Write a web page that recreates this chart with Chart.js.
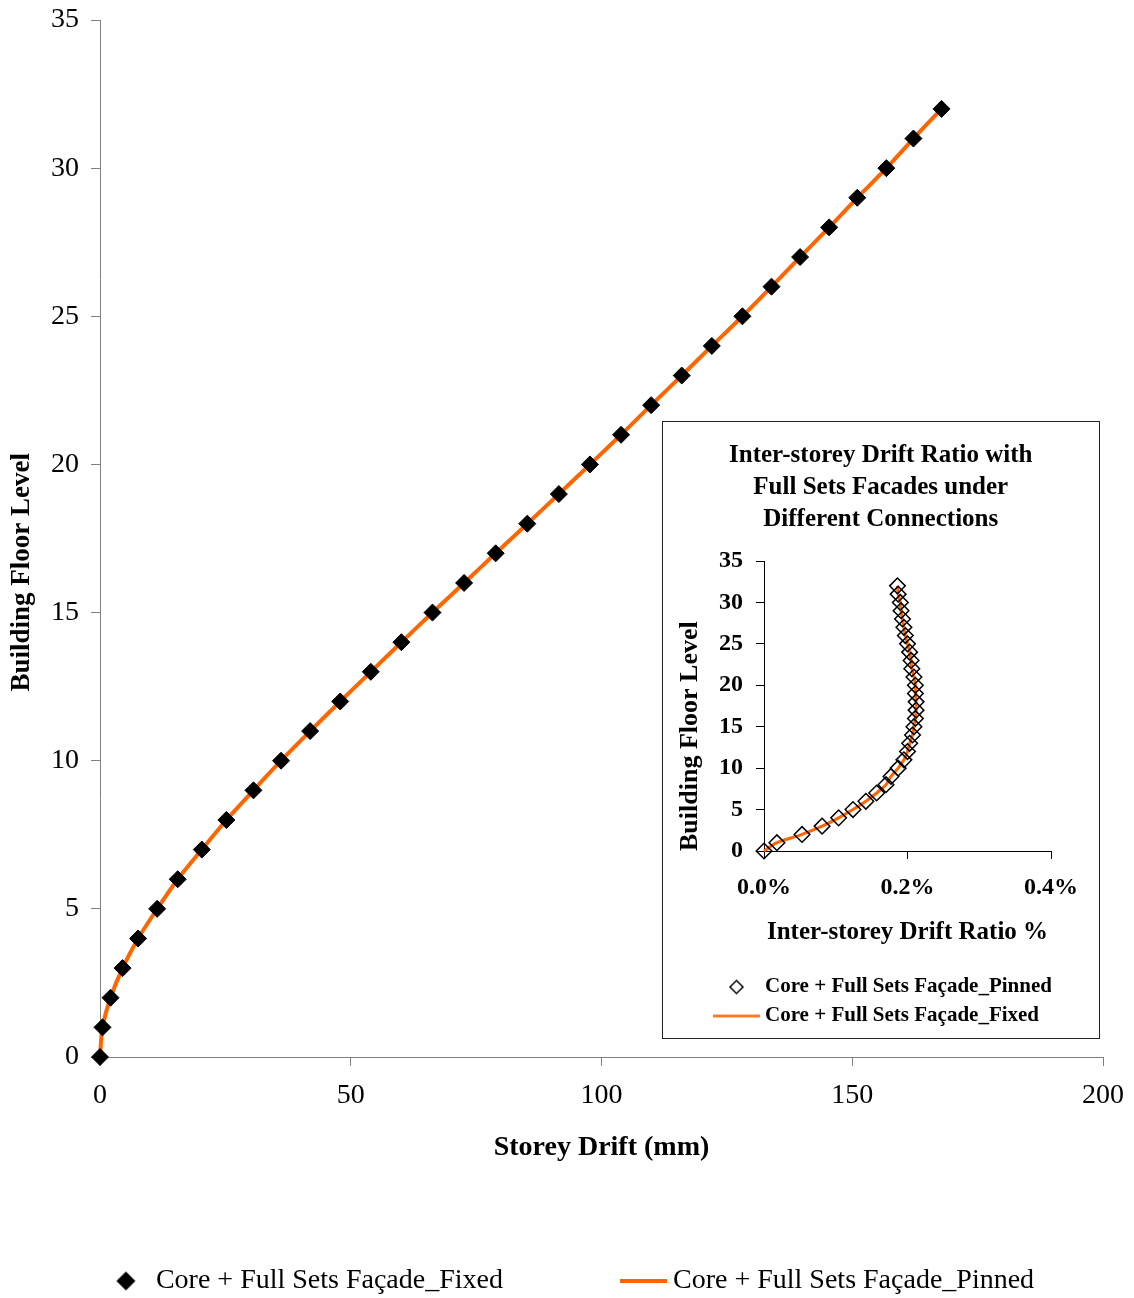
<!DOCTYPE html>
<html>
<head>
<meta charset="utf-8">
<title>Storey Drift</title>
<script src="https://cdn.jsdelivr.net/npm/chart.js@4.4.1/dist/chart.umd.min.js"></script>
<style>
  html, body { margin: 0; padding: 0; background: #fff; }
  #wrap { position: relative; width: 1134px; height: 1298px; }
  #mainChart { position: absolute; left: 0; top: 0; }
  #inset { position: absolute; left: 662px; top: 421px; width: 436px; height: 616px; border: 1px solid #222; background: #fff; }
  #insetChart { display: block; }
</style>
</head>
<body>
<div id="wrap">
  <canvas id="mainChart" width="1134" height="1298"></canvas>
  <div id="inset"><canvas id="insetChart" width="436" height="616"></canvas></div>
</div>
<script>
// Values
const floors = [0, 1, 2, 3, 4, 5, 6, 7, 8, 9, 10, 11, 12, 13, 14, 15, 16,
                17, 18, 19, 20, 21, 22, 23, 24, 25, 26, 27, 28, 29, 30, 31, 32];

// storey drift (mm)
const storeyDrift = [0, 0.5, 2.1, 4.5, 7.6, 11.4, 15.5, 20.3, 25.2, 30.6, 36.1,
                     41.9, 47.9, 54.0, 60.1, 66.3, 72.6, 78.9, 85.2, 91.5, 97.7,
                     103.9, 109.9, 116.0, 122.0, 128.1, 133.9, 139.6, 145.4, 151.0,
                     156.8, 162.2, 167.8];

// inter-storey drift ratio (%)
const driftRatio = [0, 0.018, 0.053, 0.081, 0.104, 0.124, 0.142, 0.157, 0.170, 0.177,
                    0.187, 0.195, 0.200, 0.203, 0.207, 0.209, 0.211, 0.212, 0.212,
                    0.211, 0.211, 0.209, 0.206, 0.205, 0.203, 0.200, 0.197, 0.195,
                    0.193, 0.191, 0.190, 0.187, 0.186];

const floorTicks = [0, 5, 10, 15, 20, 25, 30, 35];
const driftTicks = [0, 50, 100, 150, 200];
const ratioTicks = [0, 0.2, 0.4];

const ORANGE = '#FF6600';
const FONT = '"Liberation Serif", "Times New Roman", serif';
const NBSP = '\u00A0';

Chart.defaults.font.family = FONT;
Chart.defaults.color = '#000';

const toPoints = xs => floors.map((f, i) => ({ x: xs[i], y: f }));
const setTicks = list => scale => { scale.ticks = list.map(v => ({ value: v })); };

// small legend symbols
function diamondIcon(r, filled, lw) {
    const size = Math.ceil(2 * r + lw + 2);
    const c = document.createElement('canvas');
    c.width = size;
    c.height = size;
    const g = c.getContext('2d');
    const m = size / 2;
    g.beginPath();
    g.moveTo(m - r, m);
    g.lineTo(m, m - r);
    g.lineTo(m + r, m);
    g.lineTo(m, m + r);
    g.closePath();
    if (filled) {
        g.fillStyle = '#000';
        g.fill();
    }
    g.lineWidth = lw;
    g.strokeStyle = '#000';
    g.stroke();
    return c;
}

function lineIcon(len, lw) {
    const c = document.createElement('canvas');
    c.width = len;
    c.height = Math.ceil(lw) + 2;
    const g = c.getContext('2d');
    g.fillStyle = ORANGE;
    g.fillRect(0, (c.height - lw) / 2, len, lw);
    return c;
}

// pad: trailing blanks that widen an item, so the next one sits further right
function legendFrom(icons, pad) {
    return chart => chart.data.datasets.map((ds, i) => ({
        text: ds.label + NBSP.repeat(pad[i] || 0),
        pointStyle: icons[i],
        fillStyle: 'rgba(0,0,0,0)',
        strokeStyle: 'rgba(0,0,0,0)',
        lineWidth: 0,
        hidden: false,
        datasetIndex: i
    }));
}

// Main chart
const mainIcons = [diamondIcon(9, true, 1), lineIcon(47, 4)];

new Chart(document.getElementById('mainChart'), {
    type: 'scatter',
    data: {
        datasets: [{
            label: 'Core + Full Sets Façade_Fixed',
            data: toPoints(storeyDrift),
            showLine: false,
            pointStyle: 'rectRot',
            pointRadius: 8.5,
            pointBackgroundColor: '#000',
            pointBorderColor: '#000',
            pointBorderWidth: 1,
            order: 0,
            clip: false
        }, {
            label: 'Core + Full Sets Façade_Pinned',
            data: toPoints(storeyDrift),
            showLine: true,
            borderColor: ORANGE,
            borderWidth: 4,
            pointRadius: 0,
            tension: 0.3,
            order: 1,
            clip: false
        }]
    },
    options: {
        responsive: false,
        animation: false,
        layout: { padding: { top: 20, right: 31, bottom: -7, left: 41 } },
        plugins: {
            tooltip: { enabled: false },
            legend: {
                position: 'bottom',
                align: 'center',
                labels: {
                    usePointStyle: true,
                    pointStyleWidth: 32,
                    padding: 40,
                    font: { size: 28 },
                    color: '#000',
                    generateLabels: legendFrom(mainIcons, [12, 0])
                }
            }
        },
        scales: {
            x: {
                type: 'linear',
                min: 0,
                max: 200,
                grid: { display: true, drawOnChartArea: false, drawTicks: true, tickLength: 9, color: '#808080' },
                border: { display: true, color: '#808080', width: 1 },
                ticks: { font: { size: 28 }, padding: 13, color: '#000' },
                title: {
                    display: true,
                    text: 'Storey Drift (mm)',
                    font: { size: 28, weight: 'bold' },
                    padding: { top: 0, bottom: 62.2 }
                },
                afterBuildTicks: setTicks(driftTicks),
                afterFit: scale => {
                    scale.height = 170;
                    scale.paddingLeft = 0;
                    scale.paddingRight = 0;
                }
            },
            y: {
                type: 'linear',
                min: 0,
                max: 35,
                grid: { display: true, drawOnChartArea: false, drawTicks: true, tickLength: 9, color: '#808080' },
                border: { display: true, color: '#808080', width: 1 },
                ticks: { font: { size: 28 }, padding: 12, color: '#000' },
                title: {
                    display: true,
                    text: 'Building Floor Level' + NBSP.repeat(10),
                    font: { size: 27, weight: 'bold' },
                    padding: { top: -35.2, bottom: 0 }
                },
                afterBuildTicks: setTicks(floorTicks),
                afterFit: scale => {
                    scale.width = 59;
                    scale.paddingTop = 0;
                    scale.paddingBottom = 0;
                }
            }
        }
    }
});

// Inset chart
const insetIcons = [diamondIcon(6.5, false, 1.5), lineIcon(47, 2.5)];

new Chart(document.getElementById('insetChart'), {
    type: 'scatter',
    data: {
        datasets: [{
            label: 'Core + Full Sets Façade_Pinned',
            data: toPoints(driftRatio),
            showLine: false,
            pointStyle: 'rectRot',
            pointRadius: 7.8,
            pointBackgroundColor: 'rgba(0,0,0,0)',
            pointBorderColor: '#000',
            pointBorderWidth: 1.5,
            order: 0,
            clip: false
        }, {
            label: 'Core + Full Sets Façade_Fixed',
            data: toPoints(driftRatio),
            showLine: true,
            borderColor: ORANGE,
            borderWidth: 3,
            pointRadius: 0,
            tension: 0.3,
            order: 1,
            clip: false
        }]
    },
    options: {
        responsive: false,
        animation: false,
        layout: { padding: { top: 0, right: 48, bottom: 1.5, left: 47.5 } },
        plugins: {
            tooltip: { enabled: false },
            title: {
                display: true,
                text: ['Inter-storey Drift Ratio with', 'Full Sets Facades under', 'Different Connections'],
                font: { size: 25, weight: 'bold', lineHeight: 1.28 },
                padding: { top: 18, bottom: 25 },
                color: '#000'
            },
            legend: {
                position: 'bottom',
                align: 'start',
                labels: {
                    usePointStyle: true,
                    pointStyleWidth: 36,
                    padding: 8,
                    font: { size: 21, weight: 'bold' },
                    color: '#000',
                    generateLabels: legendFrom(insetIcons, [])
                }
            }
        },
        scales: {
            x: {
                type: 'linear',
                min: 0,
                max: 0.4,
                grid: { display: true, drawOnChartArea: false, drawTicks: true, tickLength: 8, color: '#000' },
                border: { display: true, color: '#000', width: 1 },
                ticks: {
                    font: { size: 24, weight: 'bold' },
                    padding: 14.6,
                    color: '#000',
                    callback: v => v.toFixed(1) + '%'
                },
                title: {
                    display: true,
                    text: 'Inter-storey Drift Ratio %',
                    font: { size: 25, weight: 'bold' },
                    padding: { top: 0, bottom: 21 }
                },
                afterBuildTicks: setTicks(ratioTicks),
                afterFit: scale => { scale.height = 117.5; }
            },
            y: {
                type: 'linear',
                min: 0,
                max: 35,
                grid: { display: true, drawOnChartArea: false, drawTicks: true, tickLength: 8, color: '#000' },
                border: { display: true, color: '#000', width: 1 },
                ticks: { font: { size: 24, weight: 'bold' }, padding: 13, color: '#000' },
                title: {
                    display: true,
                    align: 'start',
                    text: 'Building Floor Level',
                    font: { size: 26, weight: 'bold' },
                    padding: { top: -36.1, bottom: 0 }
                },
                afterBuildTicks: setTicks(floorTicks),
                afterFit: scale => { scale.width = 53.5; }
            }
        }
    }
});
</script>
</body>
</html>
